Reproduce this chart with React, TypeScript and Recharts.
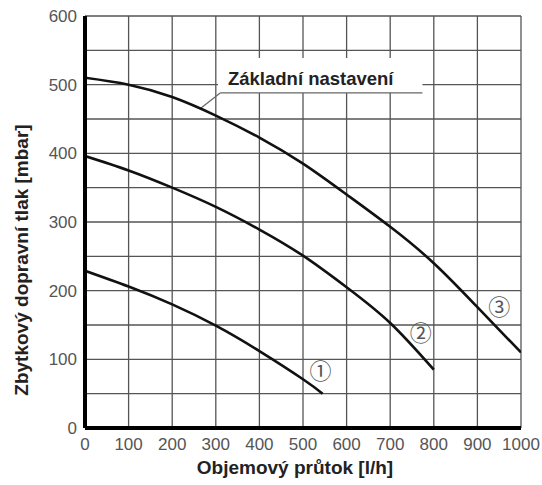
import React from 'react'
import {
  LineChart, Line, XAxis, YAxis, CartesianGrid,
  ReferenceArea, ReferenceLine, ReferenceDot,
} from 'recharts'

const FONT = '"Liberation Sans", Arial, sans-serif'

// osa x: průtok [l/h], osa y: tlak [mbar]
const FLOW_TICKS = [0, 100, 200, 300, 400, 500, 600, 700, 800, 900, 1000]
const PRESSURE_TICKS = [0, 50, 100, 150, 200, 250, 300, 350, 400, 450, 500, 550, 600]

const curve1Flow = [0, 100, 200, 300, 400, 500, 545]
const curve1Pressure = [229, 206, 180, 149, 112, 71, 50]

const curve2Flow = [0, 100, 200, 300, 400, 500, 600, 700, 800]
const curve2Pressure = [396, 375, 350, 322, 289, 251, 205, 153, 85]

const curve3Flow = [0, 100, 200, 300, 400, 500, 600, 700, 800, 900, 1000]
const curve3Pressure = [510, 500, 482, 455, 423, 385, 340, 293, 240, 176, 110]

const CURVE_MARKS = ['①', '②', '③']
const markFlow = [540, 770, 950]
const markPressure = [83, 138, 176]

const BASE_LABEL = 'Základní nastavení'

const toPoints = (flow: number[], pressure: number[]) =>
  flow.map((f, i) => ({ flow: f, pressure: pressure[i] }))

const curves = [
  toPoints(curve1Flow, curve1Pressure),
  toPoints(curve2Flow, curve2Pressure),
  toPoints(curve3Flow, curve3Pressure),
]

function YTitle(props: any) {
  const vb = props.viewBox ?? { x: 0, y: 0, height: 0 }
  const cx = vb.x + 21
  const cy = vb.y + vb.height / 2 + 38
  return (
    <text x={cx} y={cy} transform={`rotate(-90 ${cx} ${cy})`} textAnchor="middle"
      dominantBaseline="central" fontFamily={FONT} fontWeight="bold" fontSize={19} fill="#222">
      Zbytkový dopravní tlak [mbar]
    </text>
  )
}

function XTitle(props: any) {
  const vb = props.viewBox ?? { x: 0, y: 0, width: 0 }
  return (
    <text x={vb.x + vb.width / 2 - 8} y={474} textAnchor="middle"
      fontFamily={FONT} fontWeight="bold" fontSize={19} fill="#222">
      Objemový průtok [l/h]
    </text>
  )
}

function BoxLabel(props: any) {
  const vb = props.viewBox ?? { x: 0, y: 0, height: 0 }
  return (
    <text x={vb.x + 10} y={vb.y + vb.height / 2 + 3} dominantBaseline="central"
      fontFamily={FONT} fontWeight="bold" fontSize={18.5} fill="#222">
      {BASE_LABEL}
    </text>
  )
}

export default function App() {
  return (
    <div style={{ position: 'absolute', left: 0, top: 0, background: '#fff' }}>
      <LineChart width={542} height={485} margin={{ top: 16, right: 21, bottom: 0, left: 0 }}>
        <CartesianGrid stroke="#555" strokeWidth={1.3} />
        <XAxis
          type="number"
          dataKey="flow"
          domain={[0, 1000]}
          ticks={FLOW_TICKS}
          allowDataOverflow
          height={57}
          tickLine={false}
          tickMargin={4}
          axisLine={{ stroke: '#000', strokeWidth: 4 }}
          tick={{ fontSize: 17, fill: '#555', fontFamily: FONT }}
          label={<XTitle />}
        />
        <YAxis
          type="number"
          domain={[0, 600]}
          ticks={PRESSURE_TICKS}
          width={85}
          tickLine={false}
          tickFormatter={(v: number) => (v % 100 === 0 ? String(v) : '')}
          axisLine={{ stroke: '#000', strokeWidth: 4 }}
          tick={{ fontSize: 17, fill: '#555', fontFamily: FONT }}
          label={<YTitle />}
        />
        <ReferenceArea x1={305} x2={774} y1={488} y2={539} fill="#fff" fillOpacity={1}
          stroke="none" label={<BoxLabel />} />
        <ReferenceLine segment={[{ x: 264, y: 465 }, { x: 310, y: 488 }]} stroke="#666" strokeWidth={1.2} />
        <ReferenceLine segment={[{ x: 310, y: 488 }, { x: 774, y: 488 }]} stroke="#666" strokeWidth={1.2} />
        {curves.map((d, i) => (
          <Line key={i} data={d} dataKey="pressure" type="natural" stroke="#111"
            strokeWidth={2.6} dot={false} isAnimationActive={false} />
        ))}
        {CURVE_MARKS.map((m, i) => (
          <ReferenceDot key={m} x={markFlow[i]} y={markPressure[i]} r={0} stroke="none"
            label={{ value: m, position: 'center', fontSize: 22, fill: '#555',
              fontFamily: '"Noto Sans CJK JP", "DejaVu Sans", sans-serif' }} />
        ))}
      </LineChart>
    </div>
  )
}
